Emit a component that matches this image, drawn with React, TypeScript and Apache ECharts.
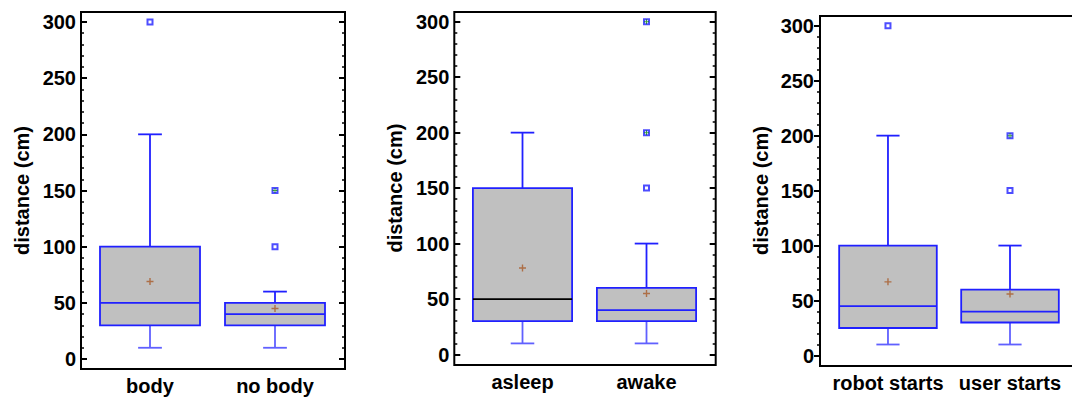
import React, { useEffect, useRef } from 'react';
import * as echarts from 'echarts';

// ---------- data ----------
const Y_NAME = 'distance (cm)';
const Y_MIN = 0;
const Y_MAX = 300;
const Y_STEP = 50;

// Panel 1
const CATS_1 = ['body', 'no body'];
const LOW_1 = [10, 10];
const Q1_1 = [30, 30];
const MEDIAN_1 = [50, 40];
const Q3_1 = [100, 50];
const HIGH_1 = [200, 60];
const MEAN_1 = [69, 45];
const OUTLIERS_1 = [[300], [100, 150]];
const REPEATED_1 = [[], [150]];

// Panel 2
const CATS_2 = ['asleep', 'awake'];
const LOW_2 = [10, 10];
const Q1_2 = [30, 30];
const MEDIAN_2 = [50, 40];
const Q3_2 = [150, 60];
const HIGH_2 = [200, 100];
const MEAN_2 = [78, 55];
const OUTLIERS_2 = [[], [150, 200, 300]];
const REPEATED_2 = [[], [200, 300]];

// Panel 3
const CATS_3 = ['robot starts', 'user starts'];
const LOW_3 = [10, 10];
const Q1_3 = [25, 30];
const MEDIAN_3 = [45, 40];
const Q3_3 = [100, 60];
const HIGH_3 = [200, 100];
const MEAN_3 = [67, 56];
const OUTLIERS_3 = [[300], [150, 200]];
const REPEATED_3 = [[], [200]];

// ---------- styles ----------
const BLUE = '#2020ff';
const BLUE_LIGHT = '#6060ff';
const FILL = '#c0c0c0';
const BROWN = '#a85a28';
const GREEN = '#108a10';
const FONT = "'Liberation Sans', Arial, sans-serif";
const FONT_SIZE = 20;
const BOX_HALF = 0.4;
const CAP_HALF = 0.095;
const PLUS = 'path://M2,0H3V2H5V3H3V5H2V3H0V2H2Z';
const LW = 1.8;

const PANELS = [
  {
    cats: CATS_1, low: LOW_1, q1: Q1_1, med: MEDIAN_1, q3: Q3_1, high: HIGH_1, mean: MEAN_1,
    outliers: OUTLIERS_1, repeated: REPEATED_1, medianColors: [BLUE, BLUE],
    layout: { left: 81, right: 345, frameTop: 12, frameBottom: 369, top: 22, zero: 359, xMin: 0.448, xMax: 2.56, inside: true, rightAxis: true },
  },
  {
    cats: CATS_2, low: LOW_2, q1: Q1_2, med: MEDIAN_2, q3: Q3_2, high: HIGH_2, mean: MEAN_2,
    outliers: OUTLIERS_2, repeated: REPEATED_2, medianColors: ['#000000', BLUE],
    layout: { left: 454.3, right: 715.7, frameTop: 12, frameBottom: 365, top: 21.7, zero: 354.5, xMin: 0.45, xMax: 2.558, inside: true, rightAxis: true },
  },
  {
    cats: CATS_3, low: LOW_3, q1: Q1_3, med: MEDIAN_3, q3: Q3_3, high: HIGH_3, mean: MEAN_3,
    outliers: OUTLIERS_3, repeated: REPEATED_3, medianColors: [BLUE, BLUE],
    layout: { left: 820, right: 1082, frameTop: 16, frameBottom: 366, top: 25.7, zero: 355.5, xMin: 0.443, xMax: 2.59, inside: false, rightAxis: false },
  },
];

const makeRenderBox = (medianColors: string[]) => (params: any, api: any) => {
  const x = api.value(0);
  const pLow = api.coord([x, api.value(1)]);
  const pQ1 = api.coord([x, api.value(2)]);
  const pMed = api.coord([x, api.value(3)]);
  const pQ3 = api.coord([x, api.value(4)]);
  const pHigh = api.coord([x, api.value(5)]);
  const xl = api.coord([x - BOX_HALF, 0])[0];
  const xr = api.coord([x + BOX_HALF, 0])[0];
  const cl = api.coord([x - CAP_HALF, 0])[0];
  const cr = api.coord([x + CAP_HALF, 0])[0];
  const cx = pMed[0];
  const solid = { stroke: BLUE, lineWidth: LW };
  const light = { stroke: BLUE_LIGHT, lineWidth: LW };
  return {
    type: 'group',
    children: [
      { type: 'line', shape: { x1: cx, y1: pQ3[1], x2: cx, y2: pHigh[1] }, style: solid },
      { type: 'line', shape: { x1: cl, y1: pHigh[1], x2: cr, y2: pHigh[1] }, style: solid },
      { type: 'line', shape: { x1: cx, y1: pQ1[1], x2: cx, y2: pLow[1] }, style: light },
      { type: 'line', shape: { x1: cl, y1: pLow[1], x2: cr, y2: pLow[1] }, style: light },
      {
        type: 'rect',
        shape: { x: xl, y: pQ3[1], width: xr - xl, height: pQ1[1] - pQ3[1] },
        style: { fill: FILL, stroke: BLUE, lineWidth: LW },
      },
      {
        type: 'line',
        shape: { x1: xl, y1: pMed[1], x2: xr, y2: pMed[1] },
        style: { stroke: medianColors[params.dataIndex], lineWidth: LW },
      },
    ],
  };
};

function buildOption() {
  const grid: any[] = [];
  const xAxis: any[] = [];
  const yAxis: any[] = [];
  const series: any[] = [];

  PANELS.forEach((p, i) => {
    const L = p.layout;
    const frameGrid = grid.length;
    grid.push({
      left: L.left, top: L.frameTop, width: L.right - L.left, height: L.frameBottom - L.frameTop,
      show: true, borderColor: '#000', borderWidth: 2, backgroundColor: 'transparent',
      containLabel: false, outerBoundsMode: 'none',
    });
    const dataGrid = grid.length;
    grid.push({
      left: L.left, top: L.top, width: L.right - L.left, height: L.zero - L.top,
      show: false, containLabel: false, outerBoundsMode: 'none',
    });

    const frameX = xAxis.length;
    xAxis.push({
      type: 'value', gridIndex: frameGrid, min: L.xMin, max: L.xMax,
      axisLine: { show: false }, axisTick: { show: false }, splitLine: { show: false },
      axisLabel: {
        customValues: [1, 2],
        formatter: (v: number) => p.cats[Math.round(v) - 1] ?? '',
        color: '#000', fontSize: FONT_SIZE, fontWeight: 'bold', fontFamily: FONT, margin: 7,
      },
    });
    const frameY = yAxis.length;
    yAxis.push({ type: 'value', gridIndex: frameGrid, min: 0, max: 1, show: false });

    const dataX = xAxis.length;
    xAxis.push({ type: 'value', gridIndex: dataGrid, min: L.xMin, max: L.xMax, show: false });
    const tickCommon = {
      axisLine: { show: false },
      axisTick: { show: true, inside: L.inside, length: 6, lineStyle: { color: '#000', width: 2 } },
      minorTick: { show: true, splitNumber: 5, length: 3, lineStyle: { color: '#000', width: 1.5 } },
      splitLine: { show: false },
      minorSplitLine: { show: false },
    };
    const dataY = yAxis.length;
    yAxis.push({
      type: 'value', gridIndex: dataGrid, position: 'left', min: Y_MIN, max: Y_MAX, interval: Y_STEP,
      ...tickCommon,
      axisLabel: { color: '#000', fontSize: FONT_SIZE, fontWeight: 'bold', fontFamily: FONT, margin: L.inside ? 5 : 6 },
      name: Y_NAME, nameLocation: 'middle', nameGap: 49, nameRotate: 90, nameMoveOverlap: false,
      nameTextStyle: { color: '#000', fontSize: FONT_SIZE, fontWeight: 'bold', fontFamily: FONT },
    });
    if (L.rightAxis) {
      yAxis.push({
        type: 'value', gridIndex: dataGrid, position: 'right', min: Y_MIN, max: Y_MAX, interval: Y_STEP,
        ...tickCommon,
        axisLabel: { show: false },
      });
    }

    series.push({
      type: 'scatter', xAxisIndex: frameX, yAxisIndex: frameY, data: [], silent: true,
    });

    series.push({
      type: 'custom',
      name: `box${i}`,
      xAxisIndex: dataX, yAxisIndex: dataY,
      renderItem: makeRenderBox(p.medianColors),
      encode: { x: 0, y: [1, 2, 3, 4, 5] },
      data: p.cats.map((_, k) => [k + 1, p.low[k], p.q1[k], p.med[k], p.q3[k], p.high[k]]),
      clip: false,
      silent: true,
    });

    series.push({
      type: 'scatter', xAxisIndex: dataX, yAxisIndex: dataY, clip: false, silent: true,
      symbol: 'rect', symbolSize: 5,
      itemStyle: { color: '#ffffff', borderColor: BLUE, borderWidth: 2 },
      data: p.outliers.flatMap((vals, k) => vals.map((v) => [k + 1, v])),
      z: 4,
    });

    series.push({
      type: 'scatter', xAxisIndex: dataX, yAxisIndex: dataY, clip: false, silent: true,
      symbol: PLUS, symbolSize: 5,
      itemStyle: { color: GREEN },
      data: p.repeated.flatMap((vals, k) => vals.map((v) => [k + 1, v])),
      z: 5,
    });

    series.push({
      type: 'scatter', xAxisIndex: dataX, yAxisIndex: dataY, clip: false, silent: true,
      symbol: PLUS, symbolSize: 7,
      itemStyle: { color: BROWN },
      data: p.mean.map((v, k) => [k + 1, v]),
      z: 5,
    });
  });

  return {
    animation: false,
    backgroundColor: '#ffffff',
    textStyle: { fontFamily: FONT },
    grid, xAxis, yAxis, series,
  };
}

export default function App() {
  const ref = useRef<HTMLDivElement>(null);
  useEffect(() => {
    if (!ref.current) return;
    const chart = echarts.init(ref.current, undefined, { renderer: 'svg' });
    chart.setOption(buildOption() as any);
    return () => chart.dispose();
  }, []);
  return (
    <div
      ref={ref}
      style={{ position: 'absolute', left: 0, top: 0, width: 1072, height: 397, background: '#fff' }}
    />
  );
}
